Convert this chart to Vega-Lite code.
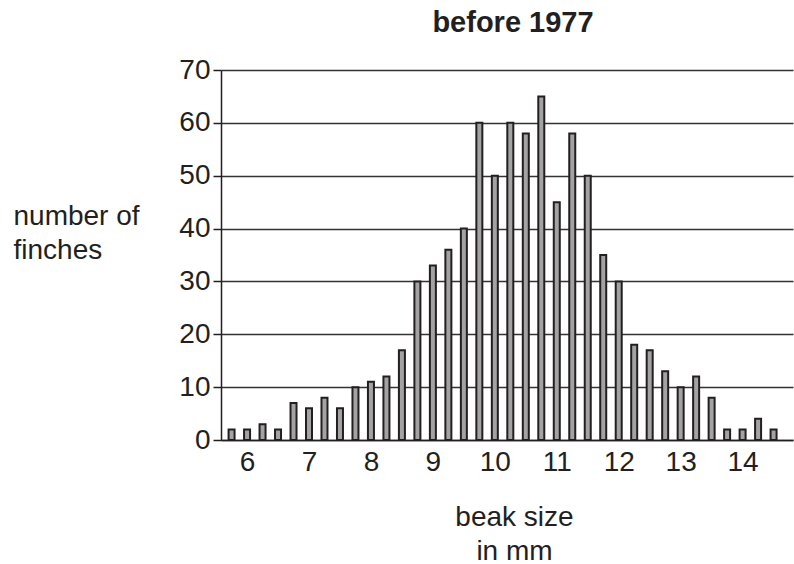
{
  "$schema": "https://vega.github.io/schema/vega-lite/v6.json",
  "width": 572,
  "height": 370,
  "autosize": "none",
  "padding": {"left": 221, "top": 70, "right": 1, "bottom": 124},
  "background": "white",
  "title": {
    "text": "before 1977",
    "font": "Liberation Sans",
    "fontSize": 29,
    "fontWeight": "bold",
    "color": "#231f20",
    "anchor": "middle",
    "frame": "group",
    "dx": 6,
    "dy": 28,
    "offset": 23,
    "baseline": "alphabetic"
  },
  "data": {
    "values": [
      {"beak": 5.75, "count": 2},
      {"beak": 6.0, "count": 2},
      {"beak": 6.25, "count": 3},
      {"beak": 6.5, "count": 2},
      {"beak": 6.75, "count": 7},
      {"beak": 7.0, "count": 6},
      {"beak": 7.25, "count": 8},
      {"beak": 7.5, "count": 6},
      {"beak": 7.75, "count": 10},
      {"beak": 8.0, "count": 11},
      {"beak": 8.25, "count": 12},
      {"beak": 8.5, "count": 17},
      {"beak": 8.75, "count": 30},
      {"beak": 9.0, "count": 33},
      {"beak": 9.25, "count": 36},
      {"beak": 9.5, "count": 40},
      {"beak": 9.75, "count": 60},
      {"beak": 10.0, "count": 50},
      {"beak": 10.25, "count": 60},
      {"beak": 10.5, "count": 58},
      {"beak": 10.75, "count": 65},
      {"beak": 11.0, "count": 45},
      {"beak": 11.25, "count": 58},
      {"beak": 11.5, "count": 50},
      {"beak": 11.75, "count": 35},
      {"beak": 12.0, "count": 30},
      {"beak": 12.25, "count": 18},
      {"beak": 12.5, "count": 17},
      {"beak": 12.75, "count": 13},
      {"beak": 13.0, "count": 10},
      {"beak": 13.25, "count": 12},
      {"beak": 13.5, "count": 8},
      {"beak": 13.75, "count": 2},
      {"beak": 14.0, "count": 2},
      {"beak": 14.25, "count": 4},
      {"beak": 14.5, "count": 2}
    ]
  },
  "mark": {
    "type": "bar",
    "width": 6,
    "fill": "#a3a3a3",
    "stroke": "#231f20",
    "strokeWidth": 2,
    "strokeJoin": "miter"
  },
  "encoding": {
    "x": {
      "field": "beak",
      "type": "quantitative",
      "scale": {"domain": [5.66, 14.733], "nice": false, "zero": false},
      "axis": {
        "values": [6, 7, 8, 9, 10, 11, 12, 13, 14],
        "ticks": false,
        "grid": false,
        "labelPadding": 8,
        "title": ["beak size", "in mm"],
        "titleX": 293,
        "titleY": 85,
        "titleAlign": "center",
        "titleBaseline": "alphabetic",
        "titleLineHeight": 34
      }
    },
    "y": {
      "field": "count",
      "type": "quantitative",
      "scale": {"domain": [0, 70], "nice": false},
      "axis": {
        "values": [0, 10, 20, 30, 40, 50, 60, 70],
        "grid": true,
        "gridColor": "#333333",
        "gridWidth": 1.5,
        "tickSize": 8,
        "labelPadding": 3,
        "title": ["number of", "finches"],
        "titleAngle": 0,
        "titleAlign": "left",
        "titleX": -208,
        "titleY": 154,
        "titleBaseline": "alphabetic",
        "titleLineHeight": 34
      }
    }
  },
  "config": {
    "view": {"stroke": null},
    "axis": {
      "labelFont": "Liberation Sans",
      "labelFontSize": 28,
      "labelColor": "#231f20",
      "titleFont": "Liberation Sans",
      "titleFontSize": 28,
      "titleFontWeight": "normal",
      "titleColor": "#231f20",
      "domainColor": "#231f20",
      "domainWidth": 1.5,
      "tickColor": "#231f20",
      "tickWidth": 1.5,
      "labelFlush": false,
      "labelOverlap": false
    }
  }
}
